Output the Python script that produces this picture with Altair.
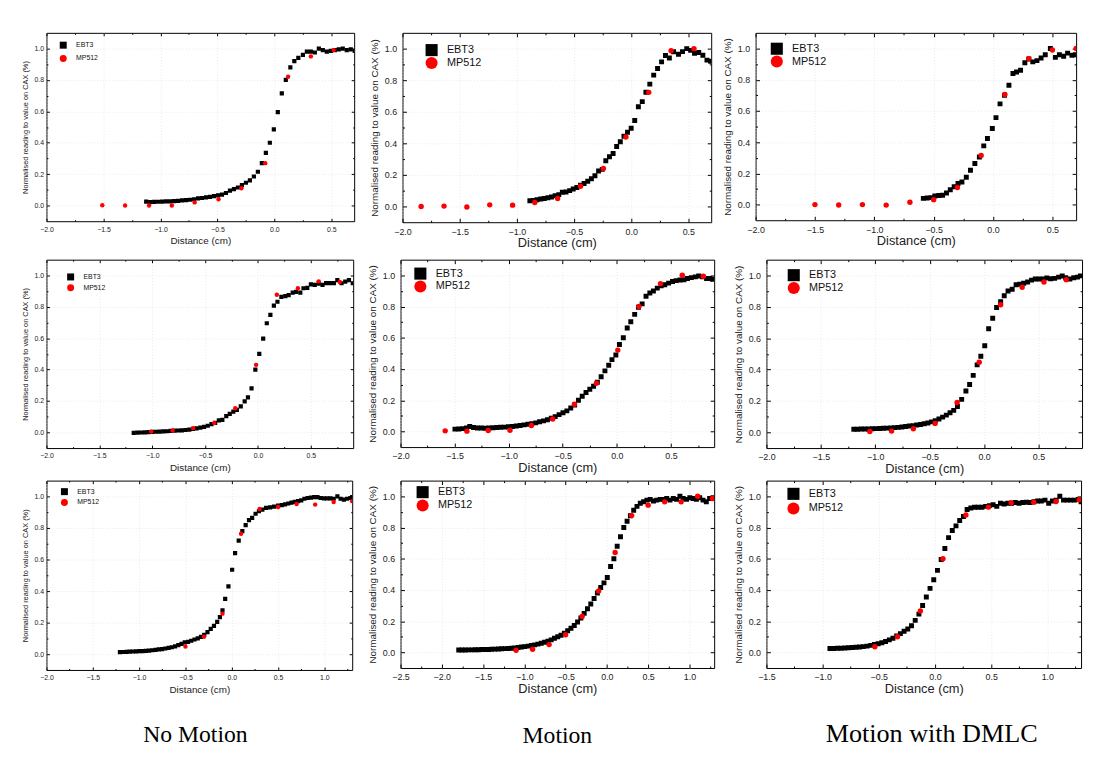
import altair as alt
import pandas as pd

# ---------------- data: (distance in cm, normalised reading) ----------------
SERIES = ["EBT3", "MP512"]
COLUMN_LABELS = ["No Motion", "Motion", "Motion with DMLC"]

# Row A
EBT3_NOMOTION_A = [(-1.125,0.025),(-1.09,0.022),(-1.055,0.023),(-1.02,0.024),(-0.985,0.025),(-0.95,0.026),(-0.915,0.027),(-0.88,0.028),(-0.845,0.030),(-0.81,0.033),(-0.775,0.035),(-0.74,0.037),(-0.705,0.040),(-0.67,0.045),(-0.635,0.048),(-0.60,0.052),(-0.565,0.055),(-0.53,0.060),(-0.495,0.065),(-0.46,0.070),(-0.425,0.080),(-0.39,0.095),(-0.355,0.105),(-0.32,0.115),(-0.285,0.130),(-0.25,0.145),(-0.215,0.160),(-0.18,0.185),(-0.145,0.215),(-0.11,0.270),(-0.075,0.335),(-0.04,0.400),(-0.005,0.485),(0.03,0.595),(0.065,0.715),(0.10,0.800),(0.14,0.880),(0.175,0.920),(0.21,0.940),(0.25,0.960),(0.285,0.980),(0.32,0.980),(0.355,0.975),(0.39,1.000),(0.425,0.990),(0.46,0.980),(0.495,0.985),(0.53,0.990),(0.565,0.995),(0.60,1.000),(0.635,0.990),(0.67,0.995),(0.705,0.985)]
MP512_NOMOTION_A = [(-1.51,0.002),(-1.31,0.0),(-1.10,0.0),(-0.90,0.0),(-0.70,0.02),(-0.49,0.04),(-0.29,0.11),(-0.08,0.27),(0.12,0.82),(0.32,0.95),(0.52,0.99)]

EBT3_MOTION_A = [(-0.886,0.036),(-0.855,0.038),(-0.823,0.042),(-0.791,0.047),(-0.760,0.050),(-0.728,0.055),(-0.697,0.060),(-0.665,0.068),(-0.633,0.075),(-0.602,0.090),(-0.570,0.092),(-0.538,0.100),(-0.507,0.110),(-0.475,0.120),(-0.443,0.135),(-0.412,0.145),(-0.380,0.160),(-0.348,0.175),(-0.317,0.195),(-0.285,0.225),(-0.253,0.235),(-0.222,0.290),(-0.190,0.315),(-0.158,0.335),(-0.127,0.380),(-0.095,0.410),(-0.063,0.445),(-0.032,0.470),(0.000,0.496),(0.031,0.544),(0.063,0.632),(0.097,0.664),(0.129,0.723),(0.163,0.775),(0.197,0.832),(0.231,0.874),(0.266,0.916),(0.300,0.956),(0.334,0.941),(0.371,0.980),(0.414,0.964),(0.449,0.981),(0.486,1.000),(0.520,0.989),(0.554,0.970),(0.591,0.975),(0.627,0.958),(0.663,0.927),(0.695,0.920)]
MP512_MOTION_A = [(-1.837,0.0),(-1.637,0.002),(-1.437,-0.004),(-1.237,0.01),(-1.037,0.008),(-0.843,0.025),(-0.643,0.05),(-0.443,0.128),(-0.243,0.24),(-0.046,0.44),(0.154,0.723),(0.349,0.987),(0.549,1.0)]

EBT3_DMLC_A = [(-0.587,0.040),(-0.555,0.042),(-0.522,0.045),(-0.490,0.055),(-0.457,0.058),(-0.425,0.060),(-0.392,0.075),(-0.360,0.095),(-0.327,0.115),(-0.295,0.135),(-0.262,0.145),(-0.225,0.175),(-0.190,0.220),(-0.153,0.263),(-0.115,0.305),(-0.078,0.376),(-0.047,0.424),(-0.006,0.487),(0.025,0.557),(0.059,0.645),(0.097,0.700),(0.134,0.765),(0.168,0.840),(0.198,0.849),(0.232,0.860),(0.268,0.908),(0.302,0.933),(0.335,0.914),(0.370,0.922),(0.405,0.939),(0.440,0.960),(0.483,1.000),(0.525,0.943),(0.559,0.960),(0.595,0.950),(0.628,0.970),(0.665,0.956),(0.695,0.960)]
MP512_DMLC_A = [(-1.5,0.0),(-1.3,-0.002),(-1.1,0.0),(-0.9,-0.003),(-0.7,0.015),(-0.5,0.032),(-0.3,0.11),(-0.1,0.315),(0.1,0.705),(0.3,0.935),(0.5,0.99),(0.7,1.0)]

# Row B
EBT3_NOMOTION_B = [(-1.175,-0.003),(-1.14,-0.002),(-1.105,-0.001),(-1.07,0.000),(-1.035,0.002),(-1.00,0.003),(-0.965,0.004),(-0.93,0.005),(-0.895,0.006),(-0.86,0.007),(-0.825,0.009),(-0.79,0.011),(-0.755,0.012),(-0.72,0.013),(-0.685,0.015),(-0.65,0.018),(-0.615,0.022),(-0.58,0.026),(-0.545,0.030),(-0.51,0.035),(-0.475,0.042),(-0.44,0.052),(-0.405,0.060),(-0.37,0.076),(-0.337,0.080),(-0.30,0.104),(-0.267,0.118),(-0.233,0.132),(-0.20,0.143),(-0.163,0.165),(-0.126,0.197),(-0.095,0.223),(-0.061,0.280),(-0.025,0.400),(0.012,0.500),(0.049,0.597),(0.083,0.695),(0.117,0.748),(0.15,0.807),(0.184,0.832),(0.221,0.863),(0.258,0.868),(0.29,0.874),(0.328,0.890),(0.36,0.895),(0.40,0.890),(0.43,0.918),(0.466,0.920),(0.50,0.943),(0.537,0.939),(0.574,0.947),(0.61,0.939),(0.644,0.951),(0.68,0.951),(0.718,0.951),(0.75,0.970),(0.79,0.950),(0.825,0.960),(0.86,0.970),(0.896,0.950)]
MP512_NOMOTION_B = [(-1.01,0.005),(-0.807,0.012),(-0.613,0.027),(-0.414,0.06),(-0.215,0.154),(-0.018,0.43),(0.178,0.877),(0.377,0.918),(0.574,0.962),(0.773,0.958)]

EBT3_MOTION_B = [(-1.497,0.015),(-1.461,0.016),(-1.425,0.018),(-1.389,0.022),(-1.360,0.032),(-1.325,0.025),(-1.290,0.022),(-1.254,0.022),(-1.218,0.021),(-1.182,0.022),(-1.146,0.024),(-1.110,0.025),(-1.074,0.027),(-1.038,0.028),(-1.002,0.030),(-0.966,0.032),(-0.930,0.035),(-0.894,0.038),(-0.858,0.042),(-0.822,0.046),(-0.786,0.050),(-0.750,0.055),(-0.714,0.062),(-0.678,0.068),(-0.642,0.075),(-0.606,0.085),(-0.570,0.095),(-0.534,0.108),(-0.498,0.120),(-0.462,0.132),(-0.426,0.150),(-0.390,0.170),(-0.355,0.200),(-0.320,0.225),(-0.285,0.250),(-0.250,0.270),(-0.215,0.290),(-0.180,0.315),(-0.145,0.350),(-0.110,0.388),(-0.075,0.424),(-0.045,0.460),(-0.009,0.490),(0.024,0.557),(0.060,0.600),(0.096,0.662),(0.129,0.702),(0.165,0.750),(0.200,0.796),(0.234,0.817),(0.270,0.866),(0.305,0.887),(0.338,0.900),(0.374,0.918),(0.410,0.933),(0.443,0.939),(0.479,0.950),(0.515,0.960),(0.548,0.966),(0.584,0.970),(0.620,0.972),(0.653,0.980),(0.689,0.985),(0.725,0.990),(0.757,0.996),(0.793,0.990),(0.830,0.980),(0.862,0.980),(0.885,0.975)]
MP512_MOTION_B = [(-1.587,0.004),(-1.386,0.002),(-1.189,0.006),(-0.988,0.008),(-0.79,0.038),(-0.593,0.08),(-0.392,0.174),(-0.189,0.309),(0.009,0.521),(0.204,0.80),(0.404,0.947),(0.605,1.0),(0.80,0.994)]

EBT3_DMLC_B = [(-1.197,0.020),(-1.163,0.020),(-1.129,0.021),(-1.095,0.022),(-1.061,0.022),(-1.027,0.023),(-0.993,0.024),(-0.959,0.025),(-0.925,0.026),(-0.891,0.027),(-0.857,0.028),(-0.823,0.030),(-0.789,0.032),(-0.755,0.034),(-0.721,0.037),(-0.687,0.040),(-0.653,0.043),(-0.619,0.047),(-0.585,0.050),(-0.551,0.055),(-0.517,0.060),(-0.483,0.067),(-0.449,0.075),(-0.415,0.085),(-0.381,0.097),(-0.347,0.110),(-0.313,0.125),(-0.279,0.140),(-0.245,0.165),(-0.206,0.210),(-0.167,0.263),(-0.133,0.305),(-0.100,0.363),(-0.064,0.430),(-0.030,0.485),(0.006,0.552),(0.042,0.660),(0.079,0.727),(0.115,0.796),(0.152,0.832),(0.185,0.870),(0.220,0.900),(0.258,0.912),(0.294,0.940),(0.327,0.943),(0.364,0.950),(0.400,0.958),(0.436,0.970),(0.470,0.977),(0.506,0.977),(0.542,0.977),(0.576,0.983),(0.612,0.979),(0.648,0.981),(0.685,0.989),(0.718,0.996),(0.750,0.985),(0.788,0.977),(0.824,0.985),(0.858,0.989),(0.885,0.997)]
MP512_DMLC_B = [(-1.05,0.006),(-0.85,0.008),(-0.65,0.023),(-0.45,0.057),(-0.248,0.19),(-0.045,0.447),(0.152,0.813),(0.35,0.924),(0.55,0.958),(0.755,0.973)]

# Row C
EBT3_NOMOTION_C = [(-1.207,0.013),(-1.172,0.014),(-1.137,0.015),(-1.102,0.016),(-1.067,0.017),(-1.032,0.018),(-0.997,0.019),(-0.962,0.020),(-0.927,0.021),(-0.892,0.023),(-0.857,0.025),(-0.822,0.027),(-0.787,0.030),(-0.752,0.032),(-0.717,0.036),(-0.682,0.040),(-0.647,0.044),(-0.612,0.050),(-0.577,0.057),(-0.542,0.065),(-0.507,0.075),(-0.472,0.078),(-0.437,0.085),(-0.402,0.093),(-0.367,0.100),(-0.332,0.110),(-0.297,0.122),(-0.262,0.140),(-0.227,0.160),(-0.192,0.180),(-0.157,0.205),(-0.128,0.235),(-0.100,0.278),(-0.071,0.350),(-0.036,0.430),(0.004,0.535),(0.036,0.640),(0.075,0.720),(0.114,0.780),(0.150,0.818),(0.186,0.850),(0.220,0.864),(0.257,0.890),(0.293,0.906),(0.330,0.916),(0.370,0.927),(0.414,0.930),(0.457,0.935),(0.500,0.941),(0.540,0.945),(0.575,0.950),(0.610,0.955),(0.645,0.960),(0.680,0.965),(0.715,0.970),(0.750,0.975),(0.785,0.985),(0.820,0.990),(0.855,0.992),(0.890,0.995),(0.925,0.995),(0.960,0.990),(0.995,0.988),(1.030,0.988),(1.065,0.988),(1.100,0.985),(1.140,1.000),(1.175,0.985),(1.210,0.980),(1.245,0.985),(1.280,0.990),(1.300,0.995)]
MP512_NOMOTION_C = [(-0.5,0.048),(-0.3,0.111),(-0.1,0.257),(0.1,0.763),(0.3,0.92),(0.5,0.933),(0.7,0.952),(0.9,0.948),(1.1,0.964),(1.3,0.97)]

EBT3_MOTION_C = [(-1.795,0.015),(-1.755,0.015),(-1.715,0.015),(-1.675,0.016),(-1.635,0.016),(-1.595,0.017),(-1.555,0.017),(-1.515,0.018),(-1.475,0.018),(-1.435,0.019),(-1.395,0.020),(-1.355,0.021),(-1.315,0.022),(-1.275,0.023),(-1.235,0.024),(-1.195,0.025),(-1.155,0.027),(-1.115,0.029),(-1.075,0.031),(-1.035,0.034),(-0.995,0.037),(-0.955,0.040),(-0.915,0.044),(-0.875,0.048),(-0.835,0.053),(-0.795,0.058),(-0.755,0.065),(-0.715,0.072),(-0.675,0.080),(-0.635,0.090),(-0.595,0.100),(-0.555,0.110),(-0.515,0.122),(-0.475,0.138),(-0.435,0.155),(-0.395,0.172),(-0.355,0.195),(-0.315,0.220),(-0.275,0.250),(-0.235,0.280),(-0.195,0.310),(-0.155,0.345),(-0.115,0.380),(-0.075,0.415),(-0.035,0.445),(0.005,0.480),(0.045,0.550),(0.085,0.600),(0.125,0.680),(0.165,0.740),(0.205,0.800),(0.245,0.840),(0.285,0.875),(0.325,0.910),(0.365,0.935),(0.405,0.955),(0.445,0.965),(0.485,0.975),(0.525,0.980),(0.565,0.970),(0.605,0.975),(0.645,0.980),(0.685,0.980),(0.725,0.985),(0.765,0.975),(0.805,0.985),(0.845,0.980),(0.885,1.000),(0.925,0.985),(0.965,0.980),(1.005,0.990),(1.045,0.985),(1.085,0.980),(1.125,0.990),(1.165,0.975),(1.205,0.965),(1.245,0.985),(1.285,0.990)]
MP512_MOTION_C = [(-1.1,0.013),(-0.9,0.02),(-0.7,0.05),(-0.5,0.113),(-0.3,0.23),(-0.1,0.393),(0.1,0.64),(0.3,0.876),(0.5,0.943),(0.7,0.964),(0.9,0.964),(1.1,1.0),(1.28,0.985)]

EBT3_DMLC_C = [(-0.935,0.025),(-0.902,0.025),(-0.869,0.026),(-0.836,0.027),(-0.803,0.028),(-0.770,0.030),(-0.737,0.031),(-0.704,0.033),(-0.671,0.035),(-0.638,0.037),(-0.605,0.040),(-0.572,0.045),(-0.539,0.050),(-0.506,0.055),(-0.473,0.062),(-0.440,0.070),(-0.407,0.080),(-0.374,0.090),(-0.341,0.105),(-0.308,0.120),(-0.275,0.135),(-0.242,0.150),(-0.209,0.170),(-0.176,0.205),(-0.143,0.245),(-0.110,0.300),(-0.077,0.355),(-0.044,0.410),(-0.011,0.465),(0.022,0.525),(0.055,0.595),(0.088,0.665),(0.121,0.735),(0.154,0.780),(0.187,0.810),(0.220,0.845),(0.253,0.870),(0.286,0.915),(0.319,0.925),(0.352,0.930),(0.385,0.930),(0.418,0.930),(0.451,0.935),(0.484,0.940),(0.517,0.945),(0.550,0.935),(0.583,0.955),(0.616,0.950),(0.649,0.955),(0.682,0.955),(0.715,0.960),(0.748,0.955),(0.781,0.960),(0.814,0.962),(0.847,0.960),(0.880,0.965),(0.913,0.970),(0.946,0.970),(0.979,0.975),(1.012,0.955),(1.045,0.970),(1.078,0.975),(1.111,1.000),(1.144,0.975),(1.177,0.975),(1.210,0.975),(1.243,0.975),(1.276,0.980),(1.300,0.965)]
MP512_DMLC_C = [(-0.535,0.036),(-0.334,0.1),(-0.13,0.265),(0.071,0.6),(0.275,0.88),(0.476,0.93),(0.678,0.958),(0.879,0.962),(1.077,0.966),(1.284,0.977)]

# axis ticks
X_MAJOR = [-2.5, -2.0, -1.5, -1.0, -0.5, 0.0, 0.5, 1.0]
X_MINOR = [-2.25, -1.75, -1.25, -0.75, -0.25, 0.25, 0.75, 1.25]
Y_MAJOR = [0.0, 0.2, 0.4, 0.6, 0.8, 1.0]
Y_MINOR = [0.1, 0.3, 0.5, 0.7, 0.9]
Y_DOMAIN = [-0.1, 1.1]

# ---------------- styles ----------------
SMALL = dict(tick=7, ytitle=7.5, xtitle=10, leg=7, legsym=50, sq=18, dot=20,
             ylabpad=3, ytitlepad=4, xlabpad=4, xtitlepad=4, major=3, minor=1.5, legoff=9)
LARGE = dict(tick=9, ytitle=10, xtitle=13, leg=11, legsym=150, sq=25, dot=30,
             ylabpad=6, ytitlepad=5, xlabpad=5, xtitlepad=1, major=4, minor=2, legoff=9)

FONT = "Liberation Sans"


def make_df(pairs, name):
    return pd.DataFrame([{"x": x, "y": y, "series": name} for x, y in pairs])


def panel(ebt, mp, xdom, w, h, s, leg_xy, leg_rowpad, bottom=None, bottom_offset=0,
          bottom_size=24, bottom_dx=0):
    df_e = make_df(ebt, "EBT3")
    df_m = make_df(mp, "MP512")
    xs = alt.Scale(domain=xdom, nice=False, zero=False)
    ys = alt.Scale(domain=Y_DOMAIN, nice=False, zero=False)
    xmaj = [v for v in X_MAJOR if xdom[0] - 1e-9 <= v <= xdom[1] + 1e-9]
    xmin = [v for v in X_MINOR if xdom[0] < v < xdom[1]]

    leg = alt.Legend(title=None, orient="none", legendX=leg_xy[0], legendY=leg_xy[1],
                     symbolSize=s["legsym"], labelFontSize=s["leg"], labelFont=FONT,
                     labelColor="#111111", labelOffset=s["legoff"], rowPadding=leg_rowpad,
                     padding=0, symbolStrokeWidth=0, symbolOpacity=1)
    color = alt.Color("series:N", scale=alt.Scale(domain=SERIES, range=["#000000", "#ff0000"]), legend=leg)
    shape = alt.Shape("series:N", scale=alt.Scale(domain=SERIES, range=["square", "circle"]), legend=leg)

    xaxis = alt.Axis(
        orient="bottom", values=xmaj, format=".1f", title="Distance (cm)",
        titleFontSize=s["xtitle"], titleFontWeight="normal", titleColor="#222222",
        labelFontSize=s["tick"], labelColor="#222222", labelPadding=s["xlabpad"],
        titlePadding=s["xtitlepad"], ticks=False, tickSize=0, domain=False,
        grid=True, gridColor="#d9d9d9", gridDash=[1, 2], gridWidth=0.6,
        labelFlush=False, labelOverlap=False, labelFont=FONT, titleFont=FONT)
    yaxis = alt.Axis(
        orient="left", values=Y_MAJOR, format=".1f",
        title="Normalised reading to value on CAX (%)",
        titleFontSize=s["ytitle"], titleFontWeight="normal", titleColor="#222222",
        labelFontSize=s["tick"], labelColor="#222222", labelPadding=s["ylabpad"],
        titlePadding=s["ytitlepad"], ticks=False, tickSize=0, domain=False,
        grid=True, gridColor="#d9d9d9", gridDash=[1, 2], gridWidth=0.6,
        labelFlush=False, labelOverlap=False, labelFont=FONT, titleFont=FONT)

    ebt_layer = alt.Chart(df_e).mark_point(filled=True, opacity=1, strokeWidth=0, clip=True,
                                           size=s["sq"]).encode(
        x=alt.X("x:Q", scale=xs, axis=xaxis),
        y=alt.Y("y:Q", scale=ys, axis=yaxis),
        color=color, shape=shape,
    )
    mp_layer = alt.Chart(df_m).mark_point(filled=True, opacity=1, strokeWidth=0, clip=True,
                                          size=s["dot"]).encode(
        x=alt.X("x:Q", scale=xs, axis=xaxis),
        y=alt.Y("y:Q", scale=ys, axis=yaxis),
        color=color, shape=shape,
    )
    pts = alt.layer(ebt_layer, mp_layer)

    def ticks(xo, yo, xv, yv, size):
        common = dict(tickSize=size, offset=-size, labels=False, domain=False, grid=False,
                      title=None, tickColor="#000000", tickWidth=1)
        return alt.Chart(df_e).mark_point(opacity=0).encode(
            x=alt.X("x:Q", scale=xs, axis=alt.Axis(orient=xo, values=xv, **common)),
            y=alt.Y("y:Q", scale=ys, axis=alt.Axis(orient=yo, values=yv, **common)),
        )

    layers = [pts,
              ticks("bottom", "left", xmaj, Y_MAJOR, s["major"]),
              ticks("top", "right", xmaj, Y_MAJOR, s["major"]),
              ticks("bottom", "left", xmin, Y_MINOR, s["minor"]),
              ticks("top", "right", xmin, Y_MINOR, s["minor"])]
    ch = alt.layer(*layers).resolve_axis(x="independent", y="independent").properties(width=w, height=h)
    if bottom:
        ch = ch.properties(title=alt.TitleParams(
            text=bottom, orient="bottom", anchor="middle", frame="group",
            font="Liberation Serif", fontSize=bottom_size, fontWeight="normal", color="#000000",
            offset=bottom_offset, dx=bottom_dx))
    return ch


def indep(c):
    return c.resolve_scale(x="independent", y="independent", color="independent",
                           shape="independent").resolve_legend(
        color="independent", shape="independent")


p1 = panel(EBT3_NOMOTION_A, MP512_NOMOTION_A, [-2.0, 0.7], 312, 191, SMALL, (13, 8.5), 5.5)
p2 = panel(EBT3_MOTION_A, MP512_MOTION_A, [-2.0, 0.7], 313, 192, LARGE, (23, 11), 0)
p3 = panel(EBT3_DMLC_A, MP512_DMLC_A, [-2.0, 0.7], 325, 190, LARGE, (15, 9.6), 0)

p4 = panel(EBT3_NOMOTION_B, MP512_NOMOTION_B, [-2.0, 0.9], 311, 191, SMALL, (20.5, 13.5), 3)
p5 = panel(EBT3_MOTION_B, MP512_MOTION_B, [-2.0, 0.9], 318, 190, LARGE, (13.6, 7.6), 0)
p6 = panel(EBT3_DMLC_B, MP512_DMLC_B, [-2.0, 0.9], 320, 191, LARGE, (21.2, 9.2), 0)

p7 = panel(EBT3_NOMOTION_C, MP512_NOMOTION_C, [-2.0, 1.3], 310, 192, SMALL, (14.2, 7.2), 3,
           COLUMN_LABELS[0], 29, 24, -4)
p8 = panel(EBT3_MOTION_C, MP512_MOTION_C, [-2.5, 1.3], 318, 190, LARGE, (15.9, 5.2), 0.5,
           COLUMN_LABELS[1], 29, 24, 0)
p9 = panel(EBT3_DMLC_C, MP512_DMLC_C, [-1.5, 1.3], 319, 190, LARGE, (20.9, 6.9), 1.8,
           COLUMN_LABELS[2], 26, 26.5, 8)

row1 = indep(alt.hconcat(indep(alt.hconcat(p1, p2, spacing=10)), p3, spacing=7))
row2 = indep(alt.hconcat(indep(alt.hconcat(p4, p5, spacing=10)), p6, spacing=16))
row3 = indep(alt.hconcat(indep(alt.hconcat(p7, p8, spacing=10)), p9, spacing=16))

top = indep(alt.vconcat(row1, row2, spacing=8))
chart = indep(alt.vconcat(top, row3, spacing=3)).properties(
    padding={"left": 13, "top": 19, "right": 0, "bottom": 0},
    background="white",
).configure(font=FONT).configure_view(stroke="#000000", strokeWidth=1)

chart.save("out.html", embed_options={"renderer": "svg", "actions": False})
